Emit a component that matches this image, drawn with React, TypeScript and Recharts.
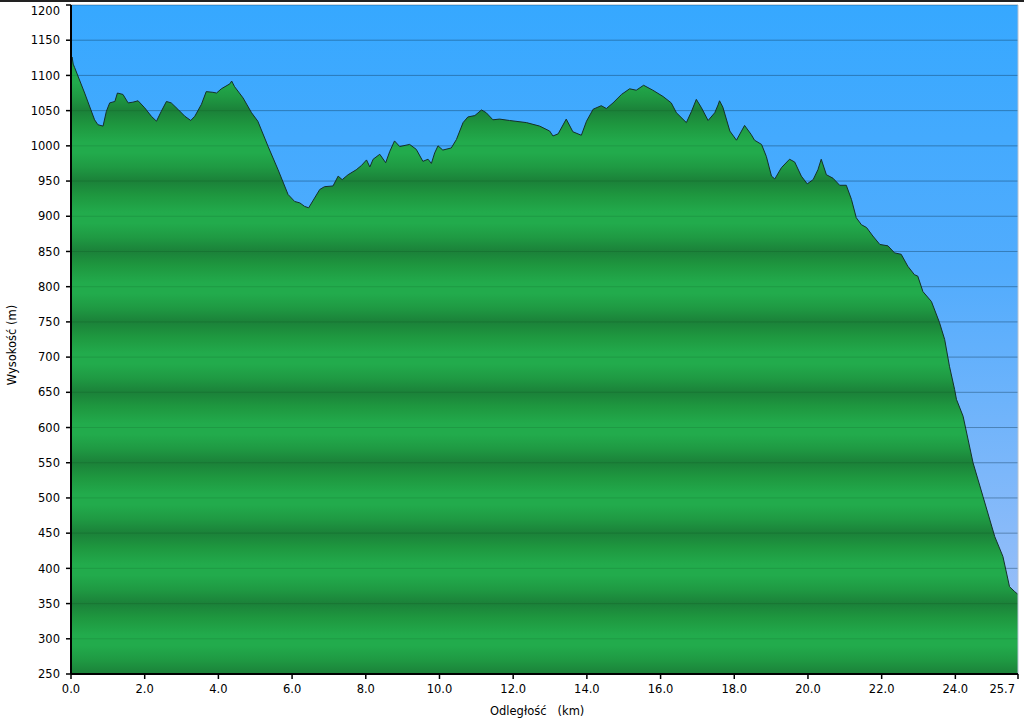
import React from 'react';
import { AreaChart, Area, XAxis, YAxis, CartesianGrid, ReferenceLine } from 'recharts';

const distanceKm = [
  0.0, 0.03, 0.06, 0.1, 0.37, 0.64, 0.73, 0.87, 0.96, 1.05, 1.19, 1.26, 1.41, 1.55, 1.68, 1.82,
  2.0, 2.18, 2.32, 2.45, 2.59, 2.72, 2.9, 3.09, 3.25, 3.36, 3.54, 3.67, 3.85, 3.95, 4.08, 4.31,
  4.36, 4.44, 4.67, 4.9, 5.07, 5.35, 5.62, 5.89, 6.07, 6.21, 6.34, 6.45, 6.75, 6.88, 7.11, 7.25,
  7.36, 7.52, 7.74, 7.88, 8.02, 8.11, 8.2, 8.38, 8.54, 8.65, 8.78, 8.92, 9.19, 9.37, 9.55, 9.69,
  9.78, 9.87, 9.96, 10.09, 10.32, 10.46, 10.64, 10.77, 10.96, 11.14, 11.27, 11.45, 11.63, 11.9,
  12.36, 12.72, 12.99, 13.08, 13.22, 13.44, 13.62, 13.85, 13.99, 14.17, 14.39, 14.53, 14.71,
  14.94, 15.16, 15.34, 15.54, 15.79, 16.07, 16.29, 16.43, 16.7, 16.84, 16.97, 17.11, 17.29,
  17.47, 17.56, 17.6, 17.69, 17.88, 18.06, 18.28, 18.46, 18.55, 18.74, 18.87, 19.01, 19.1,
  19.28, 19.5, 19.64, 19.82, 19.98, 20.14, 20.27, 20.36, 20.5, 20.68, 20.86, 21.04, 21.18,
  21.31, 21.45, 21.59, 21.76, 21.95, 22.17, 22.35, 22.53, 22.71, 22.89, 22.98, 23.12, 23.35,
  23.57, 23.71, 23.84, 23.98, 24.03, 24.21, 24.48, 24.75, 25.07, 25.29, 25.47, 25.61, 25.7,
];

const elevationM = [
  1118, 1126, 1116, 1111, 1075, 1037, 1030, 1028, 1049, 1061, 1063, 1075, 1073, 1061, 1062, 1064,
  1054, 1042, 1035, 1049, 1063, 1061, 1052, 1042, 1036, 1042, 1059, 1077, 1076, 1075, 1081, 1088,
  1092, 1084, 1068, 1047, 1035, 999, 966, 931, 921, 919, 914, 912, 938, 942, 943, 957,
  952, 959, 966, 972, 980, 970, 981, 988, 976, 992, 1007, 999, 1002, 995, 978, 981,
  975, 990, 1000, 994, 997, 1009, 1033, 1041, 1043, 1051, 1047, 1037, 1038, 1036,
  1033, 1028, 1021, 1014, 1017, 1038, 1020, 1015, 1035, 1052, 1057, 1053, 1061,
  1073, 1081, 1079, 1086, 1079, 1070, 1061, 1047, 1033, 1049, 1066, 1054, 1036,
  1047, 1058, 1064, 1055, 1021, 1008, 1029, 1016, 1008, 1002, 985, 957, 953,
  969, 981, 977, 957, 946, 952, 966, 981, 959, 954, 944, 944, 924,
  898, 888, 884, 872, 860, 858, 848, 846, 829, 817, 815, 793, 779,
  749, 725, 687, 654, 640, 616, 550, 502, 445, 417, 374, 367, 363,
];

const xTicks = [0, 2, 4, 6, 8, 10, 12, 14, 16, 18, 20, 22, 24, 25.7];
const yTicks = [250, 300, 350, 400, 450, 500, 550, 600, 650, 700, 750, 800, 850, 900, 950, 1000, 1050, 1100, 1150, 1200];

const data = distanceKm.map((km, i) => ({ km, elev: elevationM[i] }));

const FONT = '"DejaVu Sans", Verdana, sans-serif';

const YTick = (props: any) => {
  const { x, y, payload } = props;
  const shift = payload.value === 1200 ? 6 : 0;
  return (
    <text x={x} y={y + shift} dy="0.36em" textAnchor="end" fontFamily={FONT} fontSize={11.5} fill="#000">
      {payload.value}
    </text>
  );
};

const XTick = (props: any) => {
  const { x, y, payload } = props;
  const last = payload.value === 25.7;
  return (
    <text x={last ? x - 3 : x} y={y} dy="0.71em" textAnchor={last ? 'end' : 'middle'} fontFamily={FONT} fontSize={11.5} fill="#000">
      {Number(payload.value).toFixed(1)}
    </text>
  );
};

export default function App() {
  return (
    <div style={{ position: 'absolute', left: 0, top: 0, width: 1024, height: 721, background: '#fff', overflow: 'hidden' }}>
      <div style={{ position: 'absolute', left: 0, top: 0, width: 1024, height: 2, background: '#222' }} />
      <AreaChart width={1024} height={721} data={data} margin={{ top: 5, right: 6, bottom: 17, left: 0 }}>
        <defs>
          <linearGradient id="skyBg" x1="0" y1="0" x2="0" y2="1">
            <stop offset="0" stopColor="#36a8ff" />
            <stop offset="0.4" stopColor="#52acfd" />
            <stop offset="1" stopColor="#a6c2f7" />
          </linearGradient>
          <linearGradient id="groundFill" gradientUnits="userSpaceOnUse" x1="0" y1="181" x2="0" y2="251.4" spreadMethod="repeat">
            <stop offset="0" stopColor="#1b8139" />
            <stop offset="0.2" stopColor="#1e973f" />
            <stop offset="0.45" stopColor="#22ab4c" />
            <stop offset="0.6" stopColor="#22ab4c" />
            <stop offset="0.8" stopColor="#1f9a43" />
            <stop offset="1" stopColor="#1b8139" />
          </linearGradient>
        </defs>
        <CartesianGrid
          vertical={false}
          horizontal
          fill="url(#skyBg)"
          stroke="rgba(20,60,110,0.3)"
          strokeWidth={1}
        />
        <XAxis
          dataKey="km"
          type="number"
          domain={[0, 25.7]}
          ticks={xTicks}
          interval={0}
          height={30}
          tickSize={5}
          tickMargin={6}
          tick={<XTick />}
          axisLine={{ stroke: '#000', strokeWidth: 2 }}
          tickLine={{ stroke: '#000', strokeWidth: 1.5 }}
          allowDataOverflow
        />
        <YAxis
          type="number"
          domain={[250, 1200]}
          ticks={yTicks}
          interval={0}
          width={71}
          tickSize={5}
          tickMargin={6}
          tick={<YTick />}
          axisLine={{ stroke: '#000', strokeWidth: 2 }}
          tickLine={{ stroke: '#000', strokeWidth: 1.5 }}
          allowDataOverflow
        />
        <Area
          type="linear"
          dataKey="elev"
          stroke="#15302a"
          strokeWidth={1}
          fill="url(#groundFill)"
          fillOpacity={1}
          dot={false}
          activeDot={false}
          isAnimationActive={false}
        />
        {yTicks.slice(1).map((v) => (
          <ReferenceLine key={v} y={v} stroke="rgba(0,40,20,0.12)" strokeWidth={1} />
        ))}
        <ReferenceLine x={25.7} stroke="#b4c2d2" strokeWidth={1} />
      </AreaChart>
      <div
        style={{
          position: 'absolute',
          left: 490,
          top: 704,
          fontFamily: FONT,
          fontSize: 11.5,
          color: '#000',
          whiteSpace: 'pre',
        }}
      >
        {'Odległość   (km)'}
      </div>
      <div
        style={{
          position: 'absolute',
          left: 12,
          top: 345,
          fontFamily: FONT,
          fontSize: 11.5,
          color: '#000',
          whiteSpace: 'pre',
          transform: 'translate(-50%, -50%) rotate(-90deg)',
        }}
      >
        {'Wysokość (m)'}
      </div>
    </div>
  );
}
